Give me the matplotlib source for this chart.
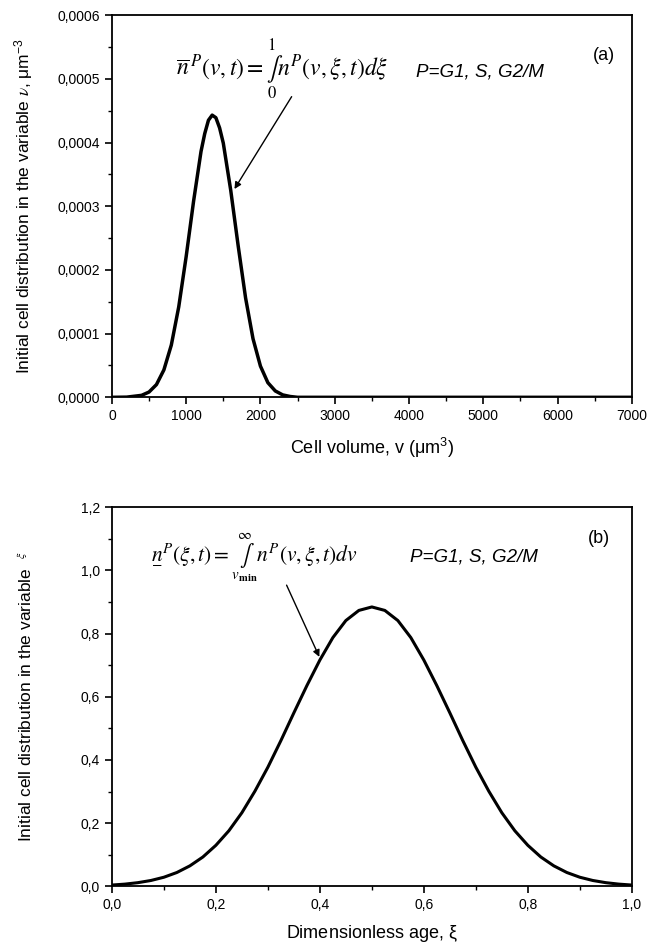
import matplotlib
matplotlib.use("Agg")
import matplotlib.pyplot as plt
from matplotlib.ticker import MultipleLocator, FuncFormatter

plt.rcParams['font.family'] = ['Liberation Sans', 'DejaVu Sans']
plt.rcParams['mathtext.fontset'] = 'stix'

# panel (a): distribution over cell volume
vol = [0, 200, 400, 500, 600, 700, 800, 900, 1000, 1100, 1200, 1250, 1300,
       1350, 1400, 1450, 1500, 1600, 1700, 1800, 1900, 2000, 2100, 2200,
       2300, 2400, 2500, 7000]
dens_v = [0, 0.0000003, 0.0000031, 0.0000083, 0.000020, 0.000043, 0.000082,
          0.000142, 0.000221, 0.000308, 0.000386, 0.000414, 0.000435,
          0.000443, 0.000439, 0.000423, 0.000399, 0.000325, 0.000238,
          0.000156, 0.000092, 0.000049, 0.000023, 0.000010, 0.0000038,
          0.0000013, 0, 0]

# panel (b): distribution over dimensionless age
age = [0.0, 0.025, 0.05, 0.075, 0.1, 0.125, 0.15, 0.175, 0.2, 0.225, 0.25,
       0.275, 0.3, 0.325, 0.35, 0.375, 0.4, 0.425, 0.45, 0.475, 0.5,
       0.525, 0.55, 0.575, 0.6, 0.625, 0.65, 0.675, 0.7, 0.725, 0.75,
       0.775, 0.8, 0.825, 0.85, 0.875, 0.9, 0.925, 0.95, 0.975, 1.0]
dens_xi = [0.0043, 0.0072, 0.0118, 0.0187, 0.029, 0.044, 0.065, 0.093, 0.130,
           0.176, 0.233, 0.301, 0.377, 0.461, 0.549, 0.635, 0.716, 0.787,
           0.841, 0.873, 0.884, 0.873, 0.841, 0.787, 0.716, 0.635, 0.549,
           0.461, 0.377, 0.301, 0.233, 0.176, 0.130, 0.093, 0.065, 0.044,
           0.029, 0.0187, 0.0118, 0.0072, 0.0043]

fig = plt.figure(figsize=(6.7, 9.46), dpi=100)
ax1 = fig.add_axes([0.167, 0.580, 0.776, 0.404])
ax2 = fig.add_axes([0.167, 0.063, 0.776, 0.401])


def comma(fmt):
    return FuncFormatter(lambda x, pos: (fmt % x).replace('.', ','))


for ax in (ax1, ax2):
    for s in ax.spines.values():
        s.set_linewidth(1.3)
    ax.tick_params(which='major', direction='out', length=5, width=1.2,
                   labelsize=10, top=False, right=False)
    ax.tick_params(which='minor', direction='out', length=3, width=1.0,
                   top=False, right=False)

# (a)
ax1.plot(vol, dens_v, color='black', lw=2.5, solid_capstyle='round')
ax1.set_xlim(0, 7000)
ax1.set_ylim(0, 0.0006)
ax1.xaxis.set_major_locator(MultipleLocator(1000))
ax1.xaxis.set_minor_locator(MultipleLocator(500))
ax1.yaxis.set_major_locator(MultipleLocator(0.0001))
ax1.yaxis.set_minor_locator(MultipleLocator(0.00005))
ax1.yaxis.set_major_formatter(comma('%.4f'))
ax1.set_xlabel(r'Cell volume, v ($\mathregular{\mu m^3}$)', fontsize=13, labelpad=9)
ax1.set_ylabel(r'Initial cell distribution in the variable $\nu$, $\mathregular{\mu m^{-3}}$',
               fontsize=12.5)
ax1.yaxis.set_label_coords(-0.148, 0.5)
ax1.text(0.327, 0.858,
         r'$\overline{n}^{\,P}\left(v,t\right)=\underset{0}{\overset{1}{\int}}n^{P}\left(v,\xi,t\right)d\xi$',
         transform=ax1.transAxes, ha='center', va='center', fontsize=17)
ax1.text(0.585, 0.852, 'P=G1, S, G2/M', transform=ax1.transAxes,
         ha='left', va='center', fontsize=13.5, style='italic')
ax1.text(0.947, 0.895, '(a)', transform=ax1.transAxes, ha='center',
         va='center', fontsize=13)
ax1.annotate('', xy=(1650, 0.000327), xytext=(2420, 0.000472),
             arrowprops=dict(arrowstyle='-|>', color='black', lw=1.0,
                             mutation_scale=10, shrinkA=0, shrinkB=0))

# (b)
ax2.plot(age, dens_xi, color='black', lw=2.2)
ax2.set_xlim(0, 1)
ax2.set_ylim(0, 1.2)
ax2.xaxis.set_major_locator(MultipleLocator(0.2))
ax2.xaxis.set_minor_locator(MultipleLocator(0.1))
ax2.yaxis.set_major_locator(MultipleLocator(0.2))
ax2.yaxis.set_minor_locator(MultipleLocator(0.1))
ax2.xaxis.set_major_formatter(comma('%.1f'))
ax2.yaxis.set_major_formatter(comma('%.1f'))
ax2.set_xlabel(r'Dimensionless age, $\mathregular{\xi}$', fontsize=13, labelpad=8)
ax2.set_ylabel(r'Initial cell distribution in the variable  $^{\xi}$',
               fontsize=12.5)
ax2.yaxis.set_label_coords(-0.148, 0.5)
ax2.text(0.273, 0.868,
         r'$\underset{-}{n}^{P}\left(\xi,t\right)=\underset{v_{\mathbf{min}}}{\overset{\infty}{\int}}n^{P}\left(v,\xi,t\right)dv$',
         transform=ax2.transAxes, ha='center', va='center', fontsize=15.5)
ax2.text(0.573, 0.868, 'P=G1, S, G2/M', transform=ax2.transAxes,
         ha='left', va='center', fontsize=13.5, style='italic')
ax2.text(0.937, 0.917, '(b)', transform=ax2.transAxes, ha='center',
         va='center', fontsize=13)
ax2.annotate('', xy=(0.399, 0.726), xytext=(0.336, 0.953),
             arrowprops=dict(arrowstyle='-|>', color='black', lw=1.0,
                             mutation_scale=10, shrinkA=0, shrinkB=0))

fig.savefig('out.png', dpi=100)
